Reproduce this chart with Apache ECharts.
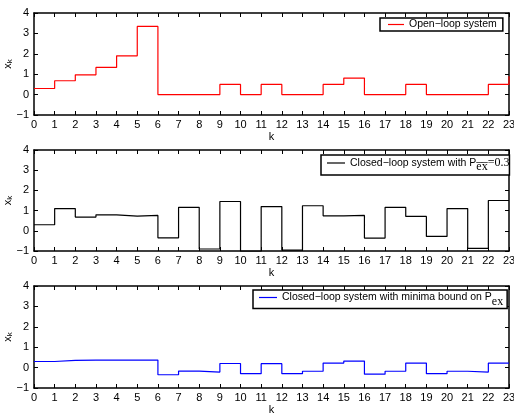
<!DOCTYPE html>
<html><head><meta charset="utf-8">
<script src="https://cdn.jsdelivr.net/npm/echarts@6/dist/echarts.min.js"></script>
<style>html,body{margin:0;padding:0;background:#fff}#c{width:514px;height:413px}</style>
</head><body><div id="c"></div>
<script>
var kValues = [0,1,2,3,4,5,6,7,8,9,10,11,12,13,14,15,16,17,18,19,20,21,22,23];
var openLoop = [0.3,0.68,0.97,1.33,1.9,3.34,0,0,0,0.5,0,0.5,0,0,0.5,0.81,0,0,0.5,0,0,0,0.5,0.9];
var closedLoop = [0.3,1.1,0.68,0.79,0.73,0.76,-0.35,1.16,-0.9,1.45,-1.02,1.2,-0.96,1.24,0.74,0.76,-0.36,1.16,0.71,-0.28,1.1,-0.87,1.5,1.5];
var minimaBound = [0.3,0.35,0.37,0.37,0.37,0.37,-0.35,-0.17,-0.22,0.2,-0.3,0.19,-0.3,-0.18,0.22,0.32,-0.32,-0.18,0.22,-0.3,-0.18,-0.22,0.22,0.22];
var yTicks = [-1,0,1,2,3,4];

var FONT = 'Liberation Sans';
var chart = echarts.init(document.getElementById('c'), null, {renderer:'canvas'});
var grids = [
  {left:34, right:5, top:13, height:102, containLabel:false, outerBoundsMode:'none'},
  {left:34, right:5, top:150, height:101, containLabel:false, outerBoundsMode:'none'},
  {left:34, right:5, top:286, height:102, containLabel:false, outerBoundsMode:'none'}
];
function pairs(arr){ return kValues.map(function(k,i){return [k, arr[i]];}); }
var xAxes=[], yAxes=[];
var lineAxis = {show:true, onZero:false, lineStyle:{color:'#000', width:1.5}};
grids.forEach(function(g, i){
  xAxes.push({gridIndex:i, type:'value', min:0, max:23, interval:1, position:'bottom',
    axisLine:lineAxis, axisTick:{inside:true, length:4, lineStyle:{color:'#000'}},
    axisLabel:{color:'#000', fontFamily:FONT, fontSize:11, margin:4},
    splitLine:{show:false}, name:'k', nameLocation:'middle', nameGap:16, nameMoveOverlap:false,
    nameTextStyle:{color:'#000', fontFamily:FONT, fontSize:11}});
  xAxes.push({gridIndex:i, type:'value', min:0, max:23, interval:1, position:'top',
    axisLine:lineAxis, axisTick:{inside:true, length:4, lineStyle:{color:'#000'}},
    axisLabel:{show:false}, splitLine:{show:false}});
  yAxes.push({gridIndex:i, type:'value', min:-1, max:4, interval:1, position:'left',
    axisLine:lineAxis, axisTick:{inside:true, length:4, lineStyle:{color:'#000'}},
    axisLabel:{color:'#000', fontFamily:FONT, fontSize:11, margin:5,
      formatter:function(v){return String(v).replace('-','\u2212');}},
    splitLine:{show:false}, name:'{x|x}{s|k}', nameLocation:'middle', nameGap:20, nameRotate:90,
    nameMoveOverlap:false,
    nameTextStyle:{color:'#000', fontFamily:FONT, rich:{
      x:{fontSize:11, fontFamily:FONT, color:'#000'},
      s:{fontSize:8, fontFamily:FONT, color:'#000', padding:[5,0,0,0]}}}});
  yAxes.push({gridIndex:i, type:'value', min:-1, max:4, interval:1, position:'right',
    axisLine:lineAxis, axisTick:{inside:true, length:4, lineStyle:{color:'#000'}},
    axisLabel:{show:false}, splitLine:{show:false}});
});
var names = ['Open\u2212loop system','Closed\u2212loop system with P','Closed\u2212loop system with minima bound on P'];
var colors = ['#ff0000','#000000','#0000ff'];
var datas = [openLoop, closedLoop, minimaBound];
var series = datas.map(function(d,i){
  return {name:names[i], type:'line', step:'end', xAxisIndex:2*i, yAxisIndex:2*i,
    data:pairs(d), symbol:'none', lineStyle:{color:colors[i], width:1.2}, itemStyle:{color:colors[i]},
    animation:false};
});
var legRich = {
  a:{fontSize:10.5, fontFamily:FONT, color:'#000'},
  s:{fontSize:12, fontFamily:'Liberation Serif', color:'#000', padding:[8,0,0,0]},
  b:{fontSize:12, fontFamily:'Liberation Serif', color:'#000'}
};
var legends = [
  {data:[names[0]], left:380, top:18, formatter:function(n){return '{a|'+n+'}';}, padding:[1,6,1,8], itemWidth:16},
  {data:[names[1]], left:321, top:155, formatter:function(n){return '{a|'+n+'}{s|e\u0305x\u0305}{b|=0.3}';}, padding:[2,0,2,6], itemWidth:18},
  {data:[names[2]], left:253, top:290, formatter:function(n){return '{a|'+n+'}{s|ex}';}, padding:[2,4,1,6], itemWidth:18}
].map(function(l){
  return Object.assign({borderColor:'#000', borderWidth:1.5, backgroundColor:'#fff', itemGap:5,
    icon:'rect', itemHeight:1.2, textStyle:{rich:legRich, fontFamily:FONT, fontSize:10.5, color:'#000'}, selectedMode:false}, l);
});
chart.setOption({animation:false, grid:grids, xAxis:xAxes, yAxis:yAxes, series:series, legend:legends});
</script></body></html>
